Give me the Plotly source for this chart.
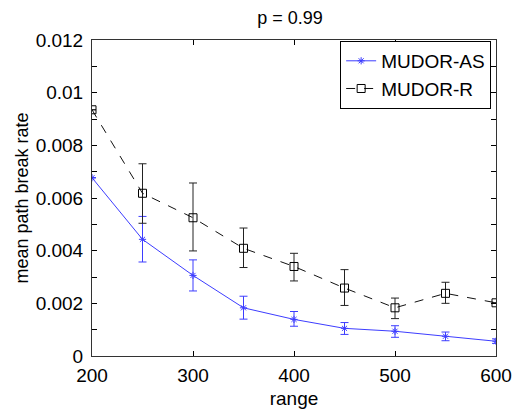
import plotly.graph_objects as go

ranges = [200, 250, 300, 350, 400, 450, 500, 550, 600]

as_mean = [0.00677, 0.00443, 0.00306, 0.00183, 0.00139, 0.00105, 0.00094, 0.00075, 0.00056]
as_up = [0.0, 0.00087, 0.00059, 0.00044, 0.00030, 0.00022, 0.00021, 0.00016, 0.00009]
as_down = [0.0, 0.00086, 0.00059, 0.00043, 0.00026, 0.00023, 0.00023, 0.00017, 0.00008]

r_mean = [0.00935, 0.00618, 0.00525, 0.00409, 0.00340, 0.00258, 0.00183, 0.00238, 0.00202]
r_up = [0.0, 0.00112, 0.00132, 0.00077, 0.00050, 0.00070, 0.00037, 0.00042, 0.0]
r_down = [0.0, 0.00114, 0.00126, 0.00073, 0.00055, 0.00066, 0.00041, 0.00038, 0.0]

ytick_vals = [0, 0.002, 0.004, 0.006, 0.008, 0.01, 0.012]
ytick_text = ['0', '0.002', '0.004', '0.006', '0.008', '0.01', '0.012']

blue = '#3d3dff'
font_family = 'Liberation Sans, Arial, sans-serif'

fig = go.Figure()
fig.add_trace(go.Scatter(
    x=ranges, y=as_mean, name='MUDOR-AS', mode='lines+markers',
    line=dict(color=blue, width=1),
    marker=dict(symbol='asterisk-open', size=6, color=blue, line=dict(color=blue, width=1)),
    error_y=dict(type='data', array=as_up, arrayminus=as_down, color=blue, thickness=1, width=4),
))
fig.add_trace(go.Scatter(
    x=ranges, y=r_mean, name='MUDOR-R', mode='lines+markers',
    line=dict(color='#111111', width=1, dash='dash'),
    marker=dict(symbol='square-open', size=8, color='black', line=dict(color='black', width=1)),
    error_y=dict(type='data', array=r_up, arrayminus=r_down, color='#222222', thickness=1, width=4),
))

# the page body adds an 8px margin, so the figure is 8px smaller than the window
axis_font = dict(family=font_family, size=19, color='black')
fig.update_layout(
    width=516, height=409,
    margin=dict(l=84, r=22, t=32, b=57),
    paper_bgcolor='white', plot_bgcolor='white',
    font=dict(family=font_family, size=19, color='black'),
    title=dict(text='p = 0.99', x=0.49, xanchor='center', xref='paper',
               y=0.977, yanchor='middle', font=dict(size=18)),
    legend=dict(x=0.988, y=0.997, xanchor='right', yanchor='top',
                bordercolor='black', borderwidth=1, bgcolor='white',
                font=dict(size=19), itemwidth=30),
    showlegend=True,
)
fig.update_xaxes(
    range=[200, 600], tickvals=[200, 300, 400, 500, 600],
    ticks='inside', ticklen=5, tickcolor='black', ticklabelstandoff=2,
    showline=True, linecolor='#333333', linewidth=1, mirror='ticks',
    showgrid=False, zeroline=False, tickfont=axis_font,
    title=dict(text='range', font=dict(size=19), standoff=6),
)
fig.update_yaxes(
    range=[0, 0.012], tickvals=ytick_vals, ticktext=ytick_text,
    ticks='inside', ticklen=5, tickcolor='black', ticklabelstandoff=4,
    minor=dict(dtick=0.001, ticks='inside', ticklen=5, tickcolor='black', showgrid=False),
    showline=True, linecolor='#333333', linewidth=1, mirror='ticks',
    showgrid=False, zeroline=False, tickfont=axis_font,
    title=dict(text='mean path break rate', font=dict(size=18), standoff=2),
)

fig.write_html('out.html')
